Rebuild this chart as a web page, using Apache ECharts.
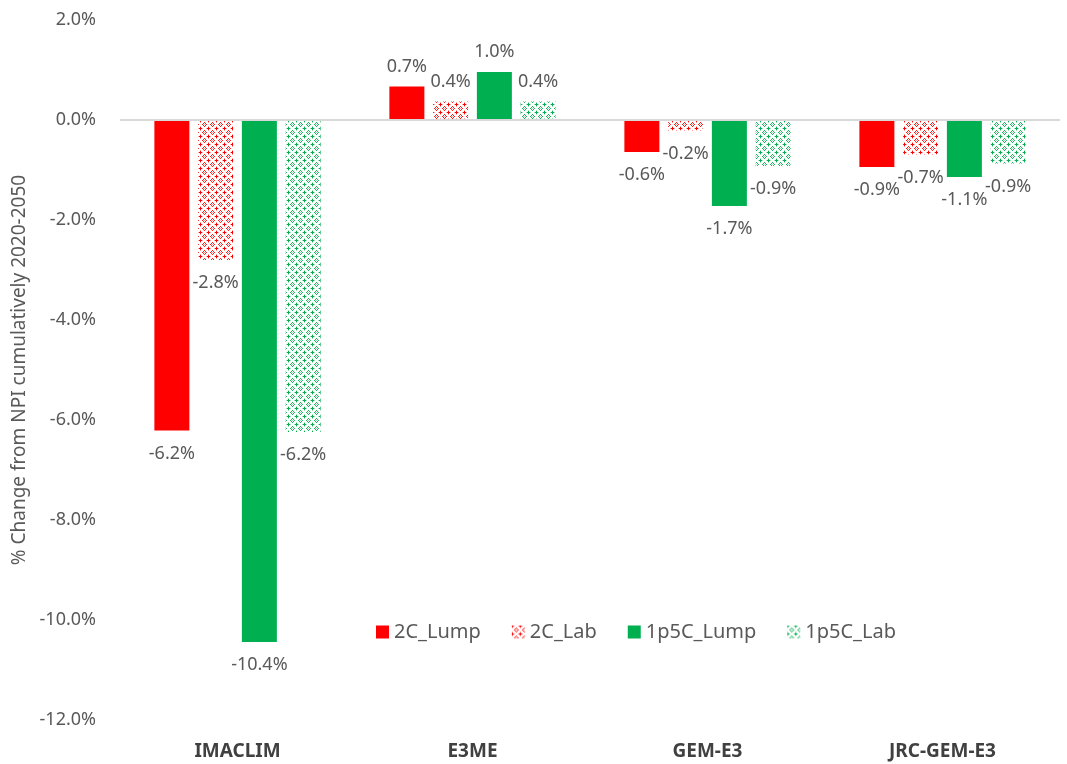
<!DOCTYPE html>
<html>
<head>
<meta charset="utf-8">
<script src="https://cdn.jsdelivr.net/npm/echarts@6/dist/echarts.min.js"></script>
<style>
  html, body { margin: 0; padding: 0; background: #fff; }
  #chart { width: 1067px; height: 764px; }
</style>
</head>
<body>
<div id="chart"></div>
<script>
const models = ['IMACLIM', 'E3ME', 'GEM-E3', 'JRC-GEM-E3']
const seriesNames = ['2C_Lump', '2C_Lab', '1p5C_Lump', '1p5C_Lab']
const lump2C = [-6.21, 0.67, -0.64, -0.94]
const lab2C = [-2.8, 0.37, -0.21, -0.69]
const lump1p5C = [-10.44, 0.96, -1.72, -1.14]
const lab1p5C = [-6.24, 0.37, -0.92, -0.87]

const font = '"Noto Sans", sans-serif'

// 8px tile: small diamond ring with plus marks at the corners
function hatch(color) {
  const c = document.createElement('canvas')
  c.width = 8
  c.height = 8
  const ctx = c.getContext('2d')
  ctx.fillStyle = '#fff'
  ctx.fillRect(0, 0, 8, 8)
  ctx.fillStyle = color
  const ring = [[4, 2], [3, 3], [5, 3], [2, 4], [6, 4], [3, 5], [5, 5], [4, 6]]
  const plus = [[0, 0], [1, 0], [7, 0], [0, 1], [0, 7]]
  ctx.globalAlpha = 0.9
  ring.forEach(([x, y]) => ctx.fillRect(x, y, 1, 1))
  ctx.globalAlpha = 1
  plus.forEach(([x, y]) => ctx.fillRect(x, y, 1, 1))
  ctx.globalAlpha = 0.35
  ;[[4, 4], [2, 0], [6, 0], [0, 2], [0, 6]].forEach(([x, y]) => ctx.fillRect(x, y, 1, 1))
  return { image: c, repeat: 'repeat' }
}

function toData(arr) {
  return arr.map((v) => ({
    value: v,
    label: { position: v < 0 ? 'bottom' : 'top', distance: v < 0 ? 14 : 11 },
  }))
}

const colors = ['#ff0000', hatch('#ff0000'), '#00b050', hatch('#00b050')]
const values = [lump2C, lab2C, lump1p5C, lab1p5C]

const chart = echarts.init(document.getElementById('chart'))

chart.setOption({
  animation: false,
  textStyle: { fontFamily: font },
  grid: { left: 120, right: 7, top: 20, bottom: 44 },
  legend: {
    data: seriesNames,
    left: 371,
    top: 617,
    icon: 'rect',
    itemWidth: 13,
    itemHeight: 13,
    itemGap: 31,
    textStyle: { color: '#595959', fontSize: 20, fontFamily: font },
  },
  xAxis: {
    type: 'category',
    data: models,
    axisLine: { show: false },
    axisTick: { show: false },
    axisLabel: {
      color: '#404040',
      fontSize: 19,
      fontWeight: 'bold',
      margin: 22,
      fontFamily: font,
    },
  },
  yAxis: {
    type: 'value',
    min: -12,
    max: 2,
    interval: 2,
    name: '% Change from NPI cumulatively 2020-2050',
    nameLocation: 'middle',
    nameGap: 86,
    nameTextStyle: { color: '#595959', fontSize: 19, fontFamily: font },
    axisLine: { show: false },
    axisTick: { show: false },
    splitLine: { show: false },
    axisLabel: {
      color: '#595959',
      fontSize: 18,
      margin: 24,
      formatter: (v) => v.toFixed(1) + '%',
    },
  },
  series: seriesNames.map((name, i) => ({
    name,
    type: 'bar',
    data: toData(values[i]),
    barWidth: 35,
    barGap: '25%',
    itemStyle: { color: colors[i] },
    label: {
      show: true,
      color: '#595959',
      fontSize: 18,
      fontFamily: font,
      formatter: (p) => p.value.toFixed(1) + '%',
    },
    markLine: i === 0 ? {
      silent: true,
      symbol: 'none',
      label: { show: false },
      lineStyle: { color: '#d9d9d9', type: 'solid', width: 2 },
      data: [{ yAxis: 0 }],
    } : undefined,
  })),
})
</script>
</body>
</html>
